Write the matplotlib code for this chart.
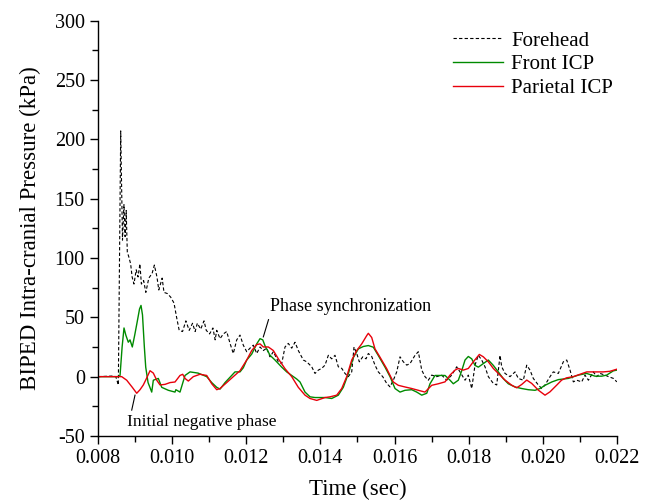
import numpy as np
import matplotlib.pyplot as plt

# forehead pressure (dashed black)
t_forehead = [0.00800, 0.00840, 0.00848, 0.008548, 0.008612, 0.008660, 0.008700, 0.008730,
              0.008760, 0.008790, 0.008830, 0.008880, 0.008920, 0.008970, 0.009030, 0.009080,
              0.009130, 0.009170, 0.009230, 0.009290, 0.009370, 0.009460, 0.009520, 0.009590,
              0.009640, 0.009730, 0.009780, 0.009870, 0.009960, 0.010050, 0.010120, 0.010190,
              0.010280, 0.010370, 0.010460, 0.010550, 0.010620, 0.010680, 0.010770, 0.010860,
              0.010920, 0.011010, 0.011100, 0.011160, 0.011203, 0.011292, 0.011381, 0.011472,
              0.011562, 0.011650, 0.011742, 0.011831, 0.011920, 0.012012, 0.012101, 0.012190,
              0.012282, 0.012371, 0.012460, 0.012551, 0.012641, 0.012730, 0.012865, 0.012956,
              0.013045, 0.013134, 0.013226, 0.013315, 0.013404, 0.013539, 0.013631, 0.013766,
              0.013855, 0.013944, 0.014036, 0.014125, 0.014214, 0.014305, 0.014394, 0.014483,
              0.014575, 0.014664, 0.014753, 0.014845, 0.014907, 0.014980, 0.015050, 0.015142,
              0.015231, 0.015293, 0.015384, 0.015473, 0.015562, 0.015681, 0.015789, 0.015878,
              0.015967, 0.016059, 0.016148, 0.016237, 0.016329, 0.016418, 0.016553, 0.016642,
              0.016734, 0.016822, 0.016911, 0.017003, 0.017138, 0.017273, 0.017408, 0.017543,
              0.017678, 0.017767, 0.017902, 0.017991, 0.018083, 0.018171, 0.018261, 0.018352,
              0.018441, 0.018531, 0.018665, 0.018757, 0.018846, 0.018892, 0.018981, 0.019116,
              0.019251, 0.019340, 0.019475, 0.019567, 0.019655, 0.019744, 0.019879, 0.019971,
              0.020060, 0.020195, 0.020284, 0.020419, 0.020554, 0.020646, 0.020735, 0.020824,
              0.020915, 0.021050, 0.021139, 0.021232, 0.021364, 0.021456, 0.021545, 0.021680,
              0.021772, 0.021907, 0.021998]
p_forehead = [0, 0.5, 0, -7, 207, 115, 145, 118,
              140, 105, 101, 95, 84, 78, 90, 84,
              95, 78, 81, 71, 83, 87, 94, 84,
              73, 83, 71, 70, 67, 62, 50, 39,
              38, 47, 39, 45, 38, 45, 40, 47,
              39, 36, 41, 31, 39, 32, 36, 38,
              28, 19.5, 31, 35, 26.5, 21, 24, 26.5,
              19.5, 25, 22, 24, 16.7, 21, 12.5, 11,
              25, 28, 24, 29, 22, 14, 12.5, 8.3,
              2.7, 5.5, 7, 9.7, 18, 15, 18, 8.3,
              7, 2.7, 0, 4, 25, 19.5, 12.5, 16.7,
              15, 19.5, 17, 9.7, 4, 0, -5.7, -8.6,
              -3, 4, 16.7, 12.5, 9.7, 11, 18, 21,
              5.5, 0, -3, 1.3, 0, 1.3, -3, 1.3,
              8.3, 4, -3, 1.3, -10, 9.7, 18, 14,
              8.3, 0, -5.7, -7, 18, 8.3, 2.7, 0,
              4, -1.5, -3, 9.7, 5.5, -1.5, -7, -10,
              -7, 0, 4, 2.7, 12.5, 14, 5.5, -4.4,
              -3, -4.4, 1.3, -3, 4, 0, 2.7, 1.3,
              0, -1.5, -4.4]

# front ICP (green)
t_front = [0.00800, 0.00855, 0.008594, 0.008650, 0.008701, 0.008750, 0.008817, 0.008863,
           0.008925, 0.008990, 0.009050, 0.009120, 0.009160, 0.009200, 0.009250, 0.009287,
           0.009350, 0.009449, 0.009492, 0.009627, 0.009719, 0.009897, 0.010077, 0.010100,
           0.010212, 0.010347, 0.010482, 0.010698, 0.010933, 0.011068, 0.011203, 0.011292,
           0.011427, 0.011696, 0.011831, 0.011920, 0.012012, 0.012147, 0.012282, 0.012371,
           0.012444, 0.012506, 0.012641, 0.012775, 0.012956, 0.013091, 0.013226, 0.013361,
           0.013450, 0.013585, 0.013720, 0.013855, 0.014125, 0.014305, 0.014483, 0.014618,
           0.014753, 0.014888, 0.015023, 0.015158, 0.015293, 0.015428, 0.015562, 0.015743,
           0.015878, 0.016013, 0.016148, 0.016283, 0.016464, 0.016599, 0.016734, 0.016870,
           0.016957, 0.017092, 0.017227, 0.017362, 0.017497, 0.017586, 0.017721, 0.017813,
           0.017902, 0.017991, 0.018083, 0.018171, 0.018261, 0.018396, 0.018531, 0.018665,
           0.018800, 0.018935, 0.019070, 0.019251, 0.019431, 0.019609, 0.019790, 0.019925,
           0.020060, 0.020241, 0.020419, 0.020689, 0.020959, 0.021183, 0.021409, 0.021589,
           0.021724, 0.021904, 0.022000]
p_front = [0, 0, 1, 25, 41, 35, 29, 31,
           25, 35, 45, 57, 60, 52, 25, 8,
           -5, -13, -3, -1.5, -9, -11.5, -13, -11,
           -13, 1, 4, 3, 0, -5, -9, -10.5,
           -5, 4, 4, 7.5, 14, 19, 27.6, 32,
           31, 26, 18, 14, 8, 4, 1, -2,
           -4.5, -13, -17, -17.6, -17.6, -18.4, -15.6, -9,
           2.5, 16, 23.4, 25.4, 26.2, 24.8, 17.8, 8,
           0, -10, -13, -11.5, -11, -13, -15.6, -14,
           -6, 1, 1, 1, -3, -6, -3, 5,
           14, 17, 15, 9.5, 8, 11, 14, 9.5,
           4, -1.7, -6, -8.7, -10, -11, -11.5, -10,
           -7.3, -4.5, -2.5, -1.5, 1.3, 2.7, 0.4, 0.4,
           1.3, 4.9, 5.5]

# parietal ICP (red)
t_parietal = [0.00800, 0.008639, 0.008774, 0.008925, 0.009044, 0.009133, 0.009222, 0.009300,
              0.009403, 0.009492, 0.009584, 0.009673, 0.009808, 0.009943, 0.010077, 0.010212,
              0.010285, 0.010347, 0.010436, 0.010571, 0.010752, 0.010933, 0.011068, 0.011203,
              0.011292, 0.011472, 0.011650, 0.011831, 0.012012, 0.012147, 0.012282, 0.012371,
              0.012460, 0.012595, 0.012730, 0.012865, 0.013045, 0.013226, 0.013404, 0.013585,
              0.013720, 0.013901, 0.014125, 0.014260, 0.014440, 0.014575, 0.014710, 0.014845,
              0.014980, 0.015115, 0.015250, 0.015293, 0.015384, 0.015473, 0.015608, 0.015789,
              0.015967, 0.016102, 0.016283, 0.016464, 0.016642, 0.016822, 0.017003, 0.017181,
              0.017362, 0.017497, 0.017632, 0.017721, 0.017856, 0.017991, 0.018126, 0.018288,
              0.018396, 0.018531, 0.018665, 0.018800, 0.018981, 0.019161, 0.019296, 0.019431,
              0.019567, 0.019701, 0.019881, 0.020060, 0.020194, 0.020374, 0.020509, 0.020640,
              0.020824, 0.021005, 0.021186, 0.021456, 0.021633, 0.021812, 0.022000]
p_parietal = [0, 0, -3, -9, -14, -11, -7, -2,
              5, 3, -3, -7, -6.5, -5, -4.5, 1,
              2, -1.5, -3.7, 0, 2, 1, -6, -11,
              -10, -5, 0, 5, 14, 22, 27, 27.6,
              25, 25, 22, 15, 6.7, 0, -9, -15.6,
              -18.4, -20, -17.6, -17, -15.6, -10, 0, 14,
              22, 27.6, 34.6, 36.5, 33, 23.4, 16.4, 6.7,
              -4.5, -7.3, -8.7, -10, -11.5, -13, -7.3, -6,
              -4.4, 1.3, 5.5, 6.9, 5.5, 6.9, 12.5, 18.7,
              16.7, 12.5, 6.9, 2.7, -2.9, -7.2, -9.4, -6.6,
              -2.9, -5.7, -11.4, -15.6, -12.8, -7.2, -2.9, -1,
              0, 2, 4, 4, 4, 4.5, 6.3]

plt.rcParams['font.family'] = ['Liberation Serif', 'DejaVu Serif']
plt.rcParams['axes.unicode_minus'] = False

fig = plt.figure(figsize=(6.47, 5.03), dpi=100)
ax = fig.add_axes([0.1515, 0.1332, 0.802, 0.826])

ax.plot(t_forehead, p_forehead, color='black', linewidth=0.8, dashes=(3, 2), label='Forehead')
ax.plot(t_front, p_front, color='#008a00', linewidth=1.0, label='Front ICP')
ax.plot(t_parietal, p_parietal, color='#e8000b', linewidth=1.0, label='Parietal ICP')

ax.set_xlim(0.008, 0.022)
ax.set_ylim(-50, 300)
ax.set_xticks(np.arange(0.008, 0.0221, 0.002))
ax.set_xticks(np.arange(0.009, 0.0221, 0.002), minor=True)
ax.set_yticks(np.arange(-50, 301, 50))
ax.set_yticks(np.arange(-25, 301, 50), minor=True)
ax.xaxis.set_major_formatter(plt.FuncFormatter(lambda v, p: f'{v:.3f}'))
ax.tick_params(which='major', direction='out', length=6, width=1, labelsize=14.5)
ax.tick_params(which='minor', direction='out', length=4, width=1)

for side in ['top', 'right']:
    ax.spines[side].set_visible(False)
for side in ['left', 'bottom']:
    ax.spines[side].set_linewidth(1.0)

ax.set_xlabel('Time (sec)', fontsize=16.5, labelpad=8)
ax.set_ylabel('BIPED Intra-cranial Pressure (kPa)', fontsize=16.5, labelpad=10)

ax.legend(loc='upper left', bbox_to_anchor=(0.648, 1.02), frameon=False, fontsize=15,
          handlelength=2.4, labelspacing=0.2, handletextpad=0.4)

# annotations
ax.plot([0.01260, 0.01246], [48, 33.5], color='black', linewidth=0.8)
ax.text(0.012641, 59.4, 'Phase synchronization', fontsize=13, va='center', ha='left')
ax.plot([0.008998, 0.008909], [-15.6, -28.2], color='black', linewidth=0.8)
ax.text(0.008782, -38.3, 'Initial negative phase', fontsize=12.5, va='center', ha='left')

fig.savefig('out.png', dpi=100)
